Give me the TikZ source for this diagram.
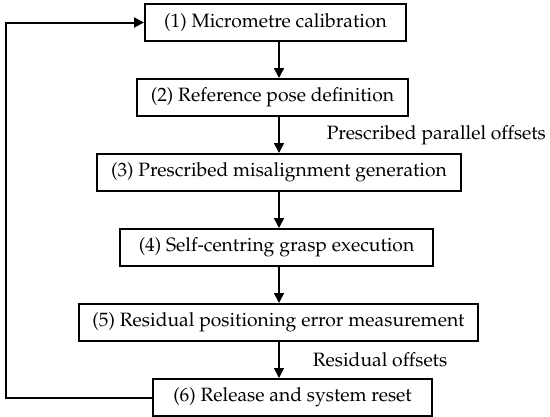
\documentclass[tikz,border=0pt]{standalone}
\usepackage[T1]{fontenc}
\usepackage{mathpazo}
\usepackage{tikz}
\usetikzlibrary{positioning,arrows.meta}

\begin{document}
\begin{tikzpicture}[
x=1pt,y=-1pt,
node distance=36pt,
stage/.style={draw,line width=2pt,minimum height=37pt,inner sep=0pt,font=\fontsize{19.3}{23}\selectfont},
note/.style={font=\fontsize{19.3}{23}\selectfont,inner sep=0pt},
arrow/.style={-{Triangle[length=10pt,width=10pt]},line width=1.6pt}
]
\useasboundingbox (0,0) rectangle (550,416);
\coordinate (spine) at (279,0);
\coordinate (loopx) at (5.5,0);
\node[stage, minimum width=261pt] (calib) at (275.5,22.5) {(1) Micrometre calibration};
\node[stage, minimum width=271pt, below=of calib, xshift=-3pt] (pose) {(2) Reference pose definition};
\node[stage, minimum width=364pt, below=of pose, xshift=6.5pt] (misal) {(3) Prescribed misalignment generation};
\node[stage, minimum width=313pt, below=of misal, xshift=-2.5pt] (grasp) {(4) Self-centring grasp execution};
\node[stage, minimum width=399pt, below=of grasp, xshift=2pt] (resid) {(5) Residual positioning error measurement};
\node[stage, minimum width=279pt, below=of resid, xshift=14pt] (reset) {(6) Release and system reset};
\draw[arrow] (calib.south -| spine) -- (pose.north -| spine);
\draw[arrow] (pose.south -| spine) -- node[note, right=47pt] (parlab) {Prescribed parallel offsets} (misal.north -| spine);
\draw[arrow] (misal.south -| spine) -- (grasp.north -| spine);
\draw[arrow] (grasp.south -| spine) -- (resid.north -| spine);
\draw[arrow] (resid.south -| spine) -- node[note, right=33pt] (reslab) {Residual offsets} (reset.north -| spine);
% feedback loop
\draw[arrow,line width=2pt] (reset.west) -- (reset.west -| loopx) |- (calib.west);
\end{tikzpicture}
\end{document}
